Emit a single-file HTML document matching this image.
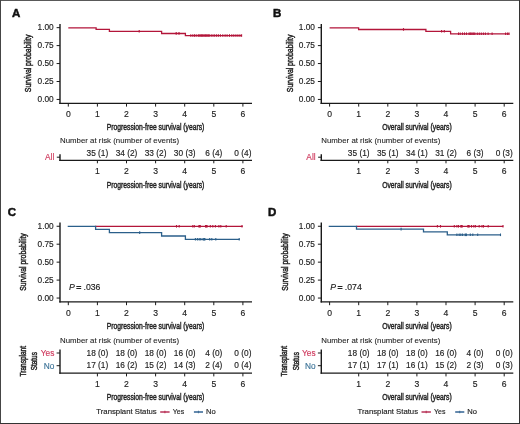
<!DOCTYPE html>
<html><head><meta charset="utf-8"><style>
html,body{margin:0;padding:0;background:#fff;}
body{width:520px;height:424px;overflow:hidden;}
svg{display:block;will-change:transform;}
text{font-family:"Liberation Sans",sans-serif;}
</style></head><body>
<svg width="520" height="424" viewBox="0 0 520 424">
<rect x="0" y="0" width="520" height="424" fill="#fff"/>
<g>
<text x="12" y="17" font-size="11.5" font-weight="bold" fill="#111" stroke="#111" stroke-width="0.5">A</text>
<line x1="60.00" y1="24.00" x2="60.00" y2="104.00" stroke="#1a1a1a" stroke-width="1.4"/>
<line x1="59.30" y1="103.30" x2="252.00" y2="103.30" stroke="#1a1a1a" stroke-width="1.3"/>
<line x1="56.60" y1="99.45" x2="60.00" y2="99.45" stroke="#1a1a1a" stroke-width="1.0"/>
<text x="53.70" y="102.00" font-size="8.3" text-anchor="end" fill="#222" stroke="#222" stroke-width="0.15">0.00</text>
<line x1="56.60" y1="81.50" x2="60.00" y2="81.50" stroke="#1a1a1a" stroke-width="1.0"/>
<text x="53.70" y="84.05" font-size="8.3" text-anchor="end" fill="#222" stroke="#222" stroke-width="0.15">0.25</text>
<line x1="56.60" y1="63.55" x2="60.00" y2="63.55" stroke="#1a1a1a" stroke-width="1.0"/>
<text x="53.70" y="66.10" font-size="8.3" text-anchor="end" fill="#222" stroke="#222" stroke-width="0.15">0.50</text>
<line x1="56.60" y1="45.60" x2="60.00" y2="45.60" stroke="#1a1a1a" stroke-width="1.0"/>
<text x="53.70" y="48.15" font-size="8.3" text-anchor="end" fill="#222" stroke="#222" stroke-width="0.15">0.75</text>
<line x1="56.60" y1="27.65" x2="60.00" y2="27.65" stroke="#1a1a1a" stroke-width="1.0"/>
<text x="53.70" y="30.20" font-size="8.3" text-anchor="end" fill="#222" stroke="#222" stroke-width="0.15">1.00</text>
<text transform="translate(30.80,63.40) rotate(-90)" x="0" y="0" font-size="9.2" text-anchor="middle" textLength="57.5" lengthAdjust="spacingAndGlyphs" fill="#222" stroke="#222" stroke-width="0.45">Survival probability</text>
<line x1="68.30" y1="103.30" x2="68.30" y2="106.60" stroke="#1a1a1a" stroke-width="1.0"/>
<text x="68.30" y="117.00" font-size="8.6" text-anchor="middle" fill="#222" stroke="#222" stroke-width="0.15">0</text>
<line x1="97.40" y1="103.30" x2="97.40" y2="106.60" stroke="#1a1a1a" stroke-width="1.0"/>
<text x="97.40" y="117.00" font-size="8.6" text-anchor="middle" fill="#222" stroke="#222" stroke-width="0.15">1</text>
<line x1="126.50" y1="103.30" x2="126.50" y2="106.60" stroke="#1a1a1a" stroke-width="1.0"/>
<text x="126.50" y="117.00" font-size="8.6" text-anchor="middle" fill="#222" stroke="#222" stroke-width="0.15">2</text>
<line x1="155.60" y1="103.30" x2="155.60" y2="106.60" stroke="#1a1a1a" stroke-width="1.0"/>
<text x="155.60" y="117.00" font-size="8.6" text-anchor="middle" fill="#222" stroke="#222" stroke-width="0.15">3</text>
<line x1="184.70" y1="103.30" x2="184.70" y2="106.60" stroke="#1a1a1a" stroke-width="1.0"/>
<text x="184.70" y="117.00" font-size="8.6" text-anchor="middle" fill="#222" stroke="#222" stroke-width="0.15">4</text>
<line x1="213.80" y1="103.30" x2="213.80" y2="106.60" stroke="#1a1a1a" stroke-width="1.0"/>
<text x="213.80" y="117.00" font-size="8.6" text-anchor="middle" fill="#222" stroke="#222" stroke-width="0.15">5</text>
<line x1="242.90" y1="103.30" x2="242.90" y2="106.60" stroke="#1a1a1a" stroke-width="1.0"/>
<text x="242.90" y="117.00" font-size="8.6" text-anchor="middle" fill="#222" stroke="#222" stroke-width="0.15">6</text>
<text x="155.60" y="130.30" font-size="9.6" text-anchor="middle" textLength="97.5" lengthAdjust="spacingAndGlyphs" fill="#222" stroke="#222" stroke-width="0.45">Progression-free survival (years)</text>
<path d="M68.30,27.80 H96.10 V29.45 H109.40 V31.30 H161.60 V33.50 H185.40 V35.60 H242.00" fill="none" stroke="#b3153a" stroke-width="1.3"/>
<line x1="139.20" y1="29.90" x2="139.20" y2="32.50" stroke="#b3153a" stroke-width="1.1"/>
<line x1="176.20" y1="32.10" x2="176.20" y2="34.70" stroke="#b3153a" stroke-width="1.1"/>
<line x1="179.00" y1="32.10" x2="179.00" y2="34.70" stroke="#b3153a" stroke-width="1.1"/>
<line x1="190.80" y1="34.20" x2="190.80" y2="36.80" stroke="#b3153a" stroke-width="1.1"/>
<line x1="192.80" y1="34.20" x2="192.80" y2="36.80" stroke="#b3153a" stroke-width="1.1"/>
<line x1="194.50" y1="34.20" x2="194.50" y2="36.80" stroke="#b3153a" stroke-width="1.1"/>
<line x1="196.20" y1="34.20" x2="196.20" y2="36.80" stroke="#b3153a" stroke-width="1.1"/>
<line x1="198.20" y1="34.20" x2="198.20" y2="36.80" stroke="#b3153a" stroke-width="1.1"/>
<line x1="199.10" y1="34.20" x2="199.10" y2="36.80" stroke="#b3153a" stroke-width="1.1"/>
<line x1="200.20" y1="34.20" x2="200.20" y2="36.80" stroke="#b3153a" stroke-width="1.1"/>
<line x1="201.30" y1="34.20" x2="201.30" y2="36.80" stroke="#b3153a" stroke-width="1.1"/>
<line x1="202.20" y1="34.20" x2="202.20" y2="36.80" stroke="#b3153a" stroke-width="1.1"/>
<line x1="203.10" y1="34.20" x2="203.10" y2="36.80" stroke="#b3153a" stroke-width="1.1"/>
<line x1="204.20" y1="34.20" x2="204.20" y2="36.80" stroke="#b3153a" stroke-width="1.1"/>
<line x1="205.30" y1="34.20" x2="205.30" y2="36.80" stroke="#b3153a" stroke-width="1.1"/>
<line x1="206.20" y1="34.20" x2="206.20" y2="36.80" stroke="#b3153a" stroke-width="1.1"/>
<line x1="207.20" y1="34.20" x2="207.20" y2="36.80" stroke="#b3153a" stroke-width="1.1"/>
<line x1="208.30" y1="34.20" x2="208.30" y2="36.80" stroke="#b3153a" stroke-width="1.1"/>
<line x1="209.30" y1="34.20" x2="209.30" y2="36.80" stroke="#b3153a" stroke-width="1.1"/>
<line x1="211.20" y1="34.20" x2="211.20" y2="36.80" stroke="#b3153a" stroke-width="1.1"/>
<line x1="213.00" y1="34.20" x2="213.00" y2="36.80" stroke="#b3153a" stroke-width="1.1"/>
<line x1="214.70" y1="34.20" x2="214.70" y2="36.80" stroke="#b3153a" stroke-width="1.1"/>
<line x1="216.60" y1="34.20" x2="216.60" y2="36.80" stroke="#b3153a" stroke-width="1.1"/>
<line x1="218.40" y1="34.20" x2="218.40" y2="36.80" stroke="#b3153a" stroke-width="1.1"/>
<line x1="220.40" y1="34.20" x2="220.40" y2="36.80" stroke="#b3153a" stroke-width="1.1"/>
<line x1="222.80" y1="34.20" x2="222.80" y2="36.80" stroke="#b3153a" stroke-width="1.1"/>
<line x1="225.10" y1="34.20" x2="225.10" y2="36.80" stroke="#b3153a" stroke-width="1.1"/>
<line x1="227.10" y1="34.20" x2="227.10" y2="36.80" stroke="#b3153a" stroke-width="1.1"/>
<line x1="229.50" y1="34.20" x2="229.50" y2="36.80" stroke="#b3153a" stroke-width="1.1"/>
<line x1="231.80" y1="34.20" x2="231.80" y2="36.80" stroke="#b3153a" stroke-width="1.1"/>
<line x1="233.80" y1="34.20" x2="233.80" y2="36.80" stroke="#b3153a" stroke-width="1.1"/>
<line x1="235.90" y1="34.20" x2="235.90" y2="36.80" stroke="#b3153a" stroke-width="1.1"/>
<line x1="237.90" y1="34.20" x2="237.90" y2="36.80" stroke="#b3153a" stroke-width="1.1"/>
<line x1="239.90" y1="34.20" x2="239.90" y2="36.80" stroke="#b3153a" stroke-width="1.1"/>
<line x1="241.60" y1="34.20" x2="241.60" y2="36.80" stroke="#b3153a" stroke-width="1.1"/>
<text x="60.00" y="142.50" font-size="7.85" text-anchor="start" fill="#222" stroke="#222" stroke-width="0.08">Number at risk (number of events)</text>
<line x1="60.00" y1="154.20" x2="60.00" y2="160.90" stroke="#1a1a1a" stroke-width="1.4"/>
<line x1="59.30" y1="160.30" x2="252.00" y2="160.30" stroke="#1a1a1a" stroke-width="1.3"/>
<line x1="56.80" y1="157.20" x2="60.00" y2="157.20" stroke="#1a1a1a" stroke-width="1.0"/>
<text x="54.30" y="160.00" font-size="8.3" text-anchor="end" fill="#cf3a5e" stroke="#cf3a5e" stroke-width="0.15">All</text>
<text x="97.40" y="155.60" font-size="8.3" text-anchor="middle" fill="#222" stroke="#222" stroke-width="0.15">35 (1)</text>
<text x="126.50" y="155.60" font-size="8.3" text-anchor="middle" fill="#222" stroke="#222" stroke-width="0.15">34 (2)</text>
<text x="155.60" y="155.60" font-size="8.3" text-anchor="middle" fill="#222" stroke="#222" stroke-width="0.15">33 (2)</text>
<text x="184.70" y="155.60" font-size="8.3" text-anchor="middle" fill="#222" stroke="#222" stroke-width="0.15">30 (3)</text>
<text x="213.80" y="155.60" font-size="8.3" text-anchor="middle" fill="#222" stroke="#222" stroke-width="0.15">6 (4)</text>
<text x="242.90" y="155.60" font-size="8.3" text-anchor="middle" fill="#222" stroke="#222" stroke-width="0.15">0 (4)</text>
<line x1="97.40" y1="160.30" x2="97.40" y2="163.30" stroke="#1a1a1a" stroke-width="1.0"/>
<text x="97.40" y="173.80" font-size="8.6" text-anchor="middle" fill="#222" stroke="#222" stroke-width="0.15">1</text>
<line x1="126.50" y1="160.30" x2="126.50" y2="163.30" stroke="#1a1a1a" stroke-width="1.0"/>
<text x="126.50" y="173.80" font-size="8.6" text-anchor="middle" fill="#222" stroke="#222" stroke-width="0.15">2</text>
<line x1="155.60" y1="160.30" x2="155.60" y2="163.30" stroke="#1a1a1a" stroke-width="1.0"/>
<text x="155.60" y="173.80" font-size="8.6" text-anchor="middle" fill="#222" stroke="#222" stroke-width="0.15">3</text>
<line x1="184.70" y1="160.30" x2="184.70" y2="163.30" stroke="#1a1a1a" stroke-width="1.0"/>
<text x="184.70" y="173.80" font-size="8.6" text-anchor="middle" fill="#222" stroke="#222" stroke-width="0.15">4</text>
<line x1="213.80" y1="160.30" x2="213.80" y2="163.30" stroke="#1a1a1a" stroke-width="1.0"/>
<text x="213.80" y="173.80" font-size="8.6" text-anchor="middle" fill="#222" stroke="#222" stroke-width="0.15">5</text>
<line x1="242.90" y1="160.30" x2="242.90" y2="163.30" stroke="#1a1a1a" stroke-width="1.0"/>
<text x="242.90" y="173.80" font-size="8.6" text-anchor="middle" fill="#222" stroke="#222" stroke-width="0.15">6</text>
<text x="155.60" y="187.60" font-size="9.6" text-anchor="middle" textLength="97.5" lengthAdjust="spacingAndGlyphs" fill="#222" stroke="#222" stroke-width="0.45">Progression-free survival (years)</text>
</g>
<g transform="translate(261.3,0)">
<text x="11.7" y="17" font-size="11.5" font-weight="bold" fill="#111" stroke="#111" stroke-width="0.5">B</text>
<line x1="60.00" y1="24.00" x2="60.00" y2="104.00" stroke="#1a1a1a" stroke-width="1.4"/>
<line x1="59.30" y1="103.30" x2="252.00" y2="103.30" stroke="#1a1a1a" stroke-width="1.3"/>
<line x1="56.60" y1="99.45" x2="60.00" y2="99.45" stroke="#1a1a1a" stroke-width="1.0"/>
<text x="53.70" y="102.00" font-size="8.3" text-anchor="end" fill="#222" stroke="#222" stroke-width="0.15">0.00</text>
<line x1="56.60" y1="81.50" x2="60.00" y2="81.50" stroke="#1a1a1a" stroke-width="1.0"/>
<text x="53.70" y="84.05" font-size="8.3" text-anchor="end" fill="#222" stroke="#222" stroke-width="0.15">0.25</text>
<line x1="56.60" y1="63.55" x2="60.00" y2="63.55" stroke="#1a1a1a" stroke-width="1.0"/>
<text x="53.70" y="66.10" font-size="8.3" text-anchor="end" fill="#222" stroke="#222" stroke-width="0.15">0.50</text>
<line x1="56.60" y1="45.60" x2="60.00" y2="45.60" stroke="#1a1a1a" stroke-width="1.0"/>
<text x="53.70" y="48.15" font-size="8.3" text-anchor="end" fill="#222" stroke="#222" stroke-width="0.15">0.75</text>
<line x1="56.60" y1="27.65" x2="60.00" y2="27.65" stroke="#1a1a1a" stroke-width="1.0"/>
<text x="53.70" y="30.20" font-size="8.3" text-anchor="end" fill="#222" stroke="#222" stroke-width="0.15">1.00</text>
<text transform="translate(31.20,63.40) rotate(-90)" x="0" y="0" font-size="9.2" text-anchor="middle" textLength="57.5" lengthAdjust="spacingAndGlyphs" fill="#222" stroke="#222" stroke-width="0.45">Survival probability</text>
<line x1="68.30" y1="103.30" x2="68.30" y2="106.60" stroke="#1a1a1a" stroke-width="1.0"/>
<text x="68.30" y="117.00" font-size="8.6" text-anchor="middle" fill="#222" stroke="#222" stroke-width="0.15">0</text>
<line x1="97.40" y1="103.30" x2="97.40" y2="106.60" stroke="#1a1a1a" stroke-width="1.0"/>
<text x="97.40" y="117.00" font-size="8.6" text-anchor="middle" fill="#222" stroke="#222" stroke-width="0.15">1</text>
<line x1="126.50" y1="103.30" x2="126.50" y2="106.60" stroke="#1a1a1a" stroke-width="1.0"/>
<text x="126.50" y="117.00" font-size="8.6" text-anchor="middle" fill="#222" stroke="#222" stroke-width="0.15">2</text>
<line x1="155.60" y1="103.30" x2="155.60" y2="106.60" stroke="#1a1a1a" stroke-width="1.0"/>
<text x="155.60" y="117.00" font-size="8.6" text-anchor="middle" fill="#222" stroke="#222" stroke-width="0.15">3</text>
<line x1="184.70" y1="103.30" x2="184.70" y2="106.60" stroke="#1a1a1a" stroke-width="1.0"/>
<text x="184.70" y="117.00" font-size="8.6" text-anchor="middle" fill="#222" stroke="#222" stroke-width="0.15">4</text>
<line x1="213.80" y1="103.30" x2="213.80" y2="106.60" stroke="#1a1a1a" stroke-width="1.0"/>
<text x="213.80" y="117.00" font-size="8.6" text-anchor="middle" fill="#222" stroke="#222" stroke-width="0.15">5</text>
<line x1="242.90" y1="103.30" x2="242.90" y2="106.60" stroke="#1a1a1a" stroke-width="1.0"/>
<text x="242.90" y="117.00" font-size="8.6" text-anchor="middle" fill="#222" stroke="#222" stroke-width="0.15">6</text>
<text x="155.60" y="130.30" font-size="9.6" text-anchor="middle" textLength="69.5" lengthAdjust="spacingAndGlyphs" fill="#222" stroke="#222" stroke-width="0.45">Overall survival (years)</text>
<path d="M68.30,27.80 H97.30 V29.50 H164.60 V31.40 H189.30 V33.80 H248.00" fill="none" stroke="#b3153a" stroke-width="1.3"/>
<line x1="142.20" y1="28.10" x2="142.20" y2="30.70" stroke="#b3153a" stroke-width="1.1"/>
<line x1="180.30" y1="30.00" x2="180.30" y2="32.60" stroke="#b3153a" stroke-width="1.1"/>
<line x1="183.00" y1="30.00" x2="183.00" y2="32.60" stroke="#b3153a" stroke-width="1.1"/>
<line x1="197.20" y1="32.40" x2="197.20" y2="35.00" stroke="#b3153a" stroke-width="1.1"/>
<line x1="198.90" y1="32.40" x2="198.90" y2="35.00" stroke="#b3153a" stroke-width="1.1"/>
<line x1="201.20" y1="32.40" x2="201.20" y2="35.00" stroke="#b3153a" stroke-width="1.1"/>
<line x1="203.20" y1="32.40" x2="203.20" y2="35.00" stroke="#b3153a" stroke-width="1.1"/>
<line x1="205.20" y1="32.40" x2="205.20" y2="35.00" stroke="#b3153a" stroke-width="1.1"/>
<line x1="207.70" y1="32.40" x2="207.70" y2="35.00" stroke="#b3153a" stroke-width="1.1"/>
<line x1="208.70" y1="32.40" x2="208.70" y2="35.00" stroke="#b3153a" stroke-width="1.1"/>
<line x1="209.50" y1="32.40" x2="209.50" y2="35.00" stroke="#b3153a" stroke-width="1.1"/>
<line x1="210.60" y1="32.40" x2="210.60" y2="35.00" stroke="#b3153a" stroke-width="1.1"/>
<line x1="211.70" y1="32.40" x2="211.70" y2="35.00" stroke="#b3153a" stroke-width="1.1"/>
<line x1="212.60" y1="32.40" x2="212.60" y2="35.00" stroke="#b3153a" stroke-width="1.1"/>
<line x1="213.60" y1="32.40" x2="213.60" y2="35.00" stroke="#b3153a" stroke-width="1.1"/>
<line x1="216.00" y1="32.40" x2="216.00" y2="35.00" stroke="#b3153a" stroke-width="1.1"/>
<line x1="218.00" y1="32.40" x2="218.00" y2="35.00" stroke="#b3153a" stroke-width="1.1"/>
<line x1="220.00" y1="32.40" x2="220.00" y2="35.00" stroke="#b3153a" stroke-width="1.1"/>
<line x1="222.10" y1="32.40" x2="222.10" y2="35.00" stroke="#b3153a" stroke-width="1.1"/>
<line x1="224.10" y1="32.40" x2="224.10" y2="35.00" stroke="#b3153a" stroke-width="1.1"/>
<line x1="226.80" y1="32.40" x2="226.80" y2="35.00" stroke="#b3153a" stroke-width="1.1"/>
<line x1="230.80" y1="32.40" x2="230.80" y2="35.00" stroke="#b3153a" stroke-width="1.1"/>
<line x1="244.30" y1="32.40" x2="244.30" y2="35.00" stroke="#b3153a" stroke-width="1.1"/>
<line x1="246.30" y1="32.40" x2="246.30" y2="35.00" stroke="#b3153a" stroke-width="1.1"/>
<line x1="247.70" y1="32.40" x2="247.70" y2="35.00" stroke="#b3153a" stroke-width="1.1"/>
<text x="60.00" y="142.50" font-size="7.85" text-anchor="start" fill="#222" stroke="#222" stroke-width="0.08">Number at risk (number of events)</text>
<line x1="60.00" y1="154.20" x2="60.00" y2="160.90" stroke="#1a1a1a" stroke-width="1.4"/>
<line x1="59.30" y1="160.30" x2="252.00" y2="160.30" stroke="#1a1a1a" stroke-width="1.3"/>
<line x1="56.80" y1="157.20" x2="60.00" y2="157.20" stroke="#1a1a1a" stroke-width="1.0"/>
<text x="54.30" y="160.00" font-size="8.3" text-anchor="end" fill="#cf3a5e" stroke="#cf3a5e" stroke-width="0.15">All</text>
<text x="97.40" y="155.60" font-size="8.3" text-anchor="middle" fill="#222" stroke="#222" stroke-width="0.15">35 (1)</text>
<text x="126.50" y="155.60" font-size="8.3" text-anchor="middle" fill="#222" stroke="#222" stroke-width="0.15">35 (1)</text>
<text x="155.60" y="155.60" font-size="8.3" text-anchor="middle" fill="#222" stroke="#222" stroke-width="0.15">34 (1)</text>
<text x="184.70" y="155.60" font-size="8.3" text-anchor="middle" fill="#222" stroke="#222" stroke-width="0.15">31 (2)</text>
<text x="213.80" y="155.60" font-size="8.3" text-anchor="middle" fill="#222" stroke="#222" stroke-width="0.15">6 (3)</text>
<text x="242.90" y="155.60" font-size="8.3" text-anchor="middle" fill="#222" stroke="#222" stroke-width="0.15">0 (3)</text>
<line x1="97.40" y1="160.30" x2="97.40" y2="163.30" stroke="#1a1a1a" stroke-width="1.0"/>
<text x="97.40" y="173.80" font-size="8.6" text-anchor="middle" fill="#222" stroke="#222" stroke-width="0.15">1</text>
<line x1="126.50" y1="160.30" x2="126.50" y2="163.30" stroke="#1a1a1a" stroke-width="1.0"/>
<text x="126.50" y="173.80" font-size="8.6" text-anchor="middle" fill="#222" stroke="#222" stroke-width="0.15">2</text>
<line x1="155.60" y1="160.30" x2="155.60" y2="163.30" stroke="#1a1a1a" stroke-width="1.0"/>
<text x="155.60" y="173.80" font-size="8.6" text-anchor="middle" fill="#222" stroke="#222" stroke-width="0.15">3</text>
<line x1="184.70" y1="160.30" x2="184.70" y2="163.30" stroke="#1a1a1a" stroke-width="1.0"/>
<text x="184.70" y="173.80" font-size="8.6" text-anchor="middle" fill="#222" stroke="#222" stroke-width="0.15">4</text>
<line x1="213.80" y1="160.30" x2="213.80" y2="163.30" stroke="#1a1a1a" stroke-width="1.0"/>
<text x="213.80" y="173.80" font-size="8.6" text-anchor="middle" fill="#222" stroke="#222" stroke-width="0.15">5</text>
<line x1="242.90" y1="160.30" x2="242.90" y2="163.30" stroke="#1a1a1a" stroke-width="1.0"/>
<text x="242.90" y="173.80" font-size="8.6" text-anchor="middle" fill="#222" stroke="#222" stroke-width="0.15">6</text>
<text x="155.60" y="187.60" font-size="9.6" text-anchor="middle" textLength="69.5" lengthAdjust="spacingAndGlyphs" fill="#222" stroke="#222" stroke-width="0.45">Overall survival (years)</text>
</g>
<g transform="translate(0,198.6)">
<text x="7.8" y="17" font-size="11.5" font-weight="bold" fill="#111" stroke="#111" stroke-width="0.5">C</text>
<line x1="60.00" y1="24.00" x2="60.00" y2="104.00" stroke="#1a1a1a" stroke-width="1.4"/>
<line x1="59.30" y1="103.30" x2="252.00" y2="103.30" stroke="#1a1a1a" stroke-width="1.3"/>
<line x1="56.60" y1="99.45" x2="60.00" y2="99.45" stroke="#1a1a1a" stroke-width="1.0"/>
<text x="53.70" y="102.00" font-size="8.3" text-anchor="end" fill="#222" stroke="#222" stroke-width="0.15">0.00</text>
<line x1="56.60" y1="81.50" x2="60.00" y2="81.50" stroke="#1a1a1a" stroke-width="1.0"/>
<text x="53.70" y="84.05" font-size="8.3" text-anchor="end" fill="#222" stroke="#222" stroke-width="0.15">0.25</text>
<line x1="56.60" y1="63.55" x2="60.00" y2="63.55" stroke="#1a1a1a" stroke-width="1.0"/>
<text x="53.70" y="66.10" font-size="8.3" text-anchor="end" fill="#222" stroke="#222" stroke-width="0.15">0.50</text>
<line x1="56.60" y1="45.60" x2="60.00" y2="45.60" stroke="#1a1a1a" stroke-width="1.0"/>
<text x="53.70" y="48.15" font-size="8.3" text-anchor="end" fill="#222" stroke="#222" stroke-width="0.15">0.75</text>
<line x1="56.60" y1="27.65" x2="60.00" y2="27.65" stroke="#1a1a1a" stroke-width="1.0"/>
<text x="53.70" y="30.20" font-size="8.3" text-anchor="end" fill="#222" stroke="#222" stroke-width="0.15">1.00</text>
<text transform="translate(26.10,63.40) rotate(-90)" x="0" y="0" font-size="9.2" text-anchor="middle" textLength="57.5" lengthAdjust="spacingAndGlyphs" fill="#222" stroke="#222" stroke-width="0.45">Survival probability</text>
<line x1="68.30" y1="103.30" x2="68.30" y2="106.60" stroke="#1a1a1a" stroke-width="1.0"/>
<text x="68.30" y="117.00" font-size="8.6" text-anchor="middle" fill="#222" stroke="#222" stroke-width="0.15">0</text>
<line x1="97.40" y1="103.30" x2="97.40" y2="106.60" stroke="#1a1a1a" stroke-width="1.0"/>
<text x="97.40" y="117.00" font-size="8.6" text-anchor="middle" fill="#222" stroke="#222" stroke-width="0.15">1</text>
<line x1="126.50" y1="103.30" x2="126.50" y2="106.60" stroke="#1a1a1a" stroke-width="1.0"/>
<text x="126.50" y="117.00" font-size="8.6" text-anchor="middle" fill="#222" stroke="#222" stroke-width="0.15">2</text>
<line x1="155.60" y1="103.30" x2="155.60" y2="106.60" stroke="#1a1a1a" stroke-width="1.0"/>
<text x="155.60" y="117.00" font-size="8.6" text-anchor="middle" fill="#222" stroke="#222" stroke-width="0.15">3</text>
<line x1="184.70" y1="103.30" x2="184.70" y2="106.60" stroke="#1a1a1a" stroke-width="1.0"/>
<text x="184.70" y="117.00" font-size="8.6" text-anchor="middle" fill="#222" stroke="#222" stroke-width="0.15">4</text>
<line x1="213.80" y1="103.30" x2="213.80" y2="106.60" stroke="#1a1a1a" stroke-width="1.0"/>
<text x="213.80" y="117.00" font-size="8.6" text-anchor="middle" fill="#222" stroke="#222" stroke-width="0.15">5</text>
<line x1="242.90" y1="103.30" x2="242.90" y2="106.60" stroke="#1a1a1a" stroke-width="1.0"/>
<text x="242.90" y="117.00" font-size="8.6" text-anchor="middle" fill="#222" stroke="#222" stroke-width="0.15">6</text>
<text x="155.60" y="130.30" font-size="9.6" text-anchor="middle" textLength="97.5" lengthAdjust="spacingAndGlyphs" fill="#222" stroke="#222" stroke-width="0.45">Progression-free survival (years)</text>
<path d="M95.00,27.80 H242.70" fill="none" stroke="#b3153a" stroke-width="1.3"/>
<line x1="176.50" y1="26.40" x2="176.50" y2="29.00" stroke="#b3153a" stroke-width="1.1"/>
<line x1="179.20" y1="26.40" x2="179.20" y2="29.00" stroke="#b3153a" stroke-width="1.1"/>
<line x1="192.80" y1="26.40" x2="192.80" y2="29.00" stroke="#b3153a" stroke-width="1.1"/>
<line x1="194.30" y1="26.40" x2="194.30" y2="29.00" stroke="#b3153a" stroke-width="1.1"/>
<line x1="199.60" y1="26.40" x2="199.60" y2="29.00" stroke="#b3153a" stroke-width="2.4"/>
<line x1="206.30" y1="26.40" x2="206.30" y2="29.00" stroke="#b3153a" stroke-width="2.6"/>
<line x1="210.30" y1="26.40" x2="210.30" y2="29.00" stroke="#b3153a" stroke-width="1.1"/>
<line x1="212.80" y1="26.40" x2="212.80" y2="29.00" stroke="#b3153a" stroke-width="1.1"/>
<line x1="215.40" y1="26.40" x2="215.40" y2="29.00" stroke="#b3153a" stroke-width="1.1"/>
<line x1="218.90" y1="26.40" x2="218.90" y2="29.00" stroke="#b3153a" stroke-width="1.1"/>
<line x1="220.80" y1="26.40" x2="220.80" y2="29.00" stroke="#b3153a" stroke-width="1.1"/>
<line x1="226.20" y1="26.40" x2="226.20" y2="29.00" stroke="#b3153a" stroke-width="1.1"/>
<line x1="242.00" y1="26.40" x2="242.00" y2="29.00" stroke="#b3153a" stroke-width="1.1"/>
<path d="M67.70,27.70 H95.60 V30.70 H109.40 V34.10 H161.60 V37.40 H185.40 V40.80 H239.70" fill="none" stroke="#2b5f8a" stroke-width="1.3"/>
<line x1="139.70" y1="32.70" x2="139.70" y2="35.30" stroke="#2b5f8a" stroke-width="1.1"/>
<line x1="195.40" y1="39.40" x2="195.40" y2="42.00" stroke="#2b5f8a" stroke-width="1.1"/>
<line x1="197.40" y1="39.40" x2="197.40" y2="42.00" stroke="#2b5f8a" stroke-width="1.1"/>
<line x1="199.20" y1="39.40" x2="199.20" y2="42.00" stroke="#2b5f8a" stroke-width="1.1"/>
<line x1="200.80" y1="39.40" x2="200.80" y2="42.00" stroke="#2b5f8a" stroke-width="1.1"/>
<line x1="203.10" y1="39.40" x2="203.10" y2="42.00" stroke="#2b5f8a" stroke-width="1.1"/>
<line x1="204.40" y1="39.40" x2="204.40" y2="42.00" stroke="#2b5f8a" stroke-width="2.0"/>
<line x1="209.70" y1="39.40" x2="209.70" y2="42.00" stroke="#2b5f8a" stroke-width="1.1"/>
<line x1="211.80" y1="39.40" x2="211.80" y2="42.00" stroke="#2b5f8a" stroke-width="1.1"/>
<line x1="215.80" y1="39.40" x2="215.80" y2="42.00" stroke="#2b5f8a" stroke-width="1.1"/>
<line x1="239.20" y1="39.40" x2="239.20" y2="42.00" stroke="#2b5f8a" stroke-width="1.1"/>
<text x="68.9" y="91.50" font-size="8.7" font-style="italic" fill="#222" stroke="#222" stroke-width="0.15">P</text>
<text x="76.2" y="91.50" font-size="8.7" fill="#222" stroke="#222" stroke-width="0.55">=</text>
<text x="83.5" y="91.50" font-size="8.7" fill="#222" stroke="#222" stroke-width="0.15">.036</text>
<text x="60.00" y="144.90" font-size="7.85" text-anchor="start" fill="#222" stroke="#222" stroke-width="0.08">Number at risk (number of events)</text>
<line x1="60.00" y1="150.90" x2="60.00" y2="175.20" stroke="#1a1a1a" stroke-width="1.4"/>
<line x1="59.30" y1="174.60" x2="252.00" y2="174.60" stroke="#1a1a1a" stroke-width="1.3"/>
<line x1="56.60" y1="154.40" x2="60.00" y2="154.40" stroke="#1a1a1a" stroke-width="1.0"/>
<text x="54.30" y="157.25" font-size="8.3" text-anchor="end" fill="#cf3a5e" stroke="#cf3a5e" stroke-width="0.15">Yes</text>
<line x1="56.60" y1="167.10" x2="60.00" y2="167.10" stroke="#1a1a1a" stroke-width="1.0"/>
<text x="54.30" y="169.95" font-size="8.3" text-anchor="end" fill="#3f7599" stroke="#3f7599" stroke-width="0.15">No</text>
<text x="97.40" y="157.15" font-size="8.3" text-anchor="middle" fill="#222" stroke="#222" stroke-width="0.15">18 (0)</text>
<text x="126.50" y="157.15" font-size="8.3" text-anchor="middle" fill="#222" stroke="#222" stroke-width="0.15">18 (0)</text>
<text x="155.60" y="157.15" font-size="8.3" text-anchor="middle" fill="#222" stroke="#222" stroke-width="0.15">18 (0)</text>
<text x="184.70" y="157.15" font-size="8.3" text-anchor="middle" fill="#222" stroke="#222" stroke-width="0.15">16 (0)</text>
<text x="213.80" y="157.15" font-size="8.3" text-anchor="middle" fill="#222" stroke="#222" stroke-width="0.15">4 (0)</text>
<text x="242.90" y="157.15" font-size="8.3" text-anchor="middle" fill="#222" stroke="#222" stroke-width="0.15">0 (0)</text>
<text x="97.40" y="169.85" font-size="8.3" text-anchor="middle" fill="#222" stroke="#222" stroke-width="0.15">17 (1)</text>
<text x="126.50" y="169.85" font-size="8.3" text-anchor="middle" fill="#222" stroke="#222" stroke-width="0.15">16 (2)</text>
<text x="155.60" y="169.85" font-size="8.3" text-anchor="middle" fill="#222" stroke="#222" stroke-width="0.15">15 (2)</text>
<text x="184.70" y="169.85" font-size="8.3" text-anchor="middle" fill="#222" stroke="#222" stroke-width="0.15">14 (3)</text>
<text x="213.80" y="169.85" font-size="8.3" text-anchor="middle" fill="#222" stroke="#222" stroke-width="0.15">2 (4)</text>
<text x="242.90" y="169.85" font-size="8.3" text-anchor="middle" fill="#222" stroke="#222" stroke-width="0.15">0 (4)</text>
<line x1="97.40" y1="174.60" x2="97.40" y2="177.80" stroke="#1a1a1a" stroke-width="1.0"/>
<text x="97.40" y="188.20" font-size="8.6" text-anchor="middle" fill="#222" stroke="#222" stroke-width="0.15">1</text>
<line x1="126.50" y1="174.60" x2="126.50" y2="177.80" stroke="#1a1a1a" stroke-width="1.0"/>
<text x="126.50" y="188.20" font-size="8.6" text-anchor="middle" fill="#222" stroke="#222" stroke-width="0.15">2</text>
<line x1="155.60" y1="174.60" x2="155.60" y2="177.80" stroke="#1a1a1a" stroke-width="1.0"/>
<text x="155.60" y="188.20" font-size="8.6" text-anchor="middle" fill="#222" stroke="#222" stroke-width="0.15">3</text>
<line x1="184.70" y1="174.60" x2="184.70" y2="177.80" stroke="#1a1a1a" stroke-width="1.0"/>
<text x="184.70" y="188.20" font-size="8.6" text-anchor="middle" fill="#222" stroke="#222" stroke-width="0.15">4</text>
<line x1="213.80" y1="174.60" x2="213.80" y2="177.80" stroke="#1a1a1a" stroke-width="1.0"/>
<text x="213.80" y="188.20" font-size="8.6" text-anchor="middle" fill="#222" stroke="#222" stroke-width="0.15">5</text>
<line x1="242.90" y1="174.60" x2="242.90" y2="177.80" stroke="#1a1a1a" stroke-width="1.0"/>
<text x="242.90" y="188.20" font-size="8.6" text-anchor="middle" fill="#222" stroke="#222" stroke-width="0.15">6</text>
<text x="155.60" y="201.40" font-size="9.6" text-anchor="middle" textLength="97.5" lengthAdjust="spacingAndGlyphs" fill="#222" stroke="#222" stroke-width="0.45">Progression-free survival (years)</text>
<text transform="translate(25.60,162.60) rotate(-90)" x="0" y="0" font-size="8.3" text-anchor="middle" textLength="30.5" lengthAdjust="spacingAndGlyphs" fill="#222" stroke="#222" stroke-width="0.45">Transplant</text>
<text transform="translate(37.30,162.60) rotate(-90)" x="0" y="0" font-size="8.3" text-anchor="middle" textLength="18.2" lengthAdjust="spacingAndGlyphs" fill="#222" stroke="#222" stroke-width="0.45">Status</text>
<text x="96.30" y="215.70" font-size="7.75" text-anchor="start" fill="#222" stroke="#222" stroke-width="0.15">Transplant Status</text>
<line x1="160.20" y1="213.40" x2="169.60" y2="213.40" stroke="#c04a6c" stroke-width="1.7"/>
<line x1="164.90" y1="212.10" x2="164.90" y2="214.70" stroke="#b3153a" stroke-width="0.7"/>
<text x="172.80" y="215.70" font-size="7.6" text-anchor="start" fill="#222" stroke="#222" stroke-width="0.15" textLength="11.4" lengthAdjust="spacingAndGlyphs">Yes</text>
<line x1="193.90" y1="213.40" x2="203.00" y2="213.40" stroke="#4a75a0" stroke-width="1.7"/>
<line x1="198.45" y1="212.10" x2="198.45" y2="214.70" stroke="#2b5f8a" stroke-width="0.7"/>
<text x="206.00" y="215.70" font-size="7.6" text-anchor="start" fill="#222" stroke="#222" stroke-width="0.15">No</text>
</g>
<g transform="translate(261.3,198.6)">
<text x="6.8" y="17" font-size="11.5" font-weight="bold" fill="#111" stroke="#111" stroke-width="0.5">D</text>
<line x1="60.00" y1="24.00" x2="60.00" y2="104.00" stroke="#1a1a1a" stroke-width="1.4"/>
<line x1="59.30" y1="103.30" x2="252.00" y2="103.30" stroke="#1a1a1a" stroke-width="1.3"/>
<line x1="56.60" y1="99.45" x2="60.00" y2="99.45" stroke="#1a1a1a" stroke-width="1.0"/>
<text x="53.70" y="102.00" font-size="8.3" text-anchor="end" fill="#222" stroke="#222" stroke-width="0.15">0.00</text>
<line x1="56.60" y1="81.50" x2="60.00" y2="81.50" stroke="#1a1a1a" stroke-width="1.0"/>
<text x="53.70" y="84.05" font-size="8.3" text-anchor="end" fill="#222" stroke="#222" stroke-width="0.15">0.25</text>
<line x1="56.60" y1="63.55" x2="60.00" y2="63.55" stroke="#1a1a1a" stroke-width="1.0"/>
<text x="53.70" y="66.10" font-size="8.3" text-anchor="end" fill="#222" stroke="#222" stroke-width="0.15">0.50</text>
<line x1="56.60" y1="45.60" x2="60.00" y2="45.60" stroke="#1a1a1a" stroke-width="1.0"/>
<text x="53.70" y="48.15" font-size="8.3" text-anchor="end" fill="#222" stroke="#222" stroke-width="0.15">0.75</text>
<line x1="56.60" y1="27.65" x2="60.00" y2="27.65" stroke="#1a1a1a" stroke-width="1.0"/>
<text x="53.70" y="30.20" font-size="8.3" text-anchor="end" fill="#222" stroke="#222" stroke-width="0.15">1.00</text>
<text transform="translate(26.20,63.40) rotate(-90)" x="0" y="0" font-size="9.2" text-anchor="middle" textLength="57.5" lengthAdjust="spacingAndGlyphs" fill="#222" stroke="#222" stroke-width="0.45">Survival probability</text>
<line x1="68.30" y1="103.30" x2="68.30" y2="106.60" stroke="#1a1a1a" stroke-width="1.0"/>
<text x="68.30" y="117.00" font-size="8.6" text-anchor="middle" fill="#222" stroke="#222" stroke-width="0.15">0</text>
<line x1="97.40" y1="103.30" x2="97.40" y2="106.60" stroke="#1a1a1a" stroke-width="1.0"/>
<text x="97.40" y="117.00" font-size="8.6" text-anchor="middle" fill="#222" stroke="#222" stroke-width="0.15">1</text>
<line x1="126.50" y1="103.30" x2="126.50" y2="106.60" stroke="#1a1a1a" stroke-width="1.0"/>
<text x="126.50" y="117.00" font-size="8.6" text-anchor="middle" fill="#222" stroke="#222" stroke-width="0.15">2</text>
<line x1="155.60" y1="103.30" x2="155.60" y2="106.60" stroke="#1a1a1a" stroke-width="1.0"/>
<text x="155.60" y="117.00" font-size="8.6" text-anchor="middle" fill="#222" stroke="#222" stroke-width="0.15">3</text>
<line x1="184.70" y1="103.30" x2="184.70" y2="106.60" stroke="#1a1a1a" stroke-width="1.0"/>
<text x="184.70" y="117.00" font-size="8.6" text-anchor="middle" fill="#222" stroke="#222" stroke-width="0.15">4</text>
<line x1="213.80" y1="103.30" x2="213.80" y2="106.60" stroke="#1a1a1a" stroke-width="1.0"/>
<text x="213.80" y="117.00" font-size="8.6" text-anchor="middle" fill="#222" stroke="#222" stroke-width="0.15">5</text>
<line x1="242.90" y1="103.30" x2="242.90" y2="106.60" stroke="#1a1a1a" stroke-width="1.0"/>
<text x="242.90" y="117.00" font-size="8.6" text-anchor="middle" fill="#222" stroke="#222" stroke-width="0.15">6</text>
<text x="155.60" y="130.30" font-size="9.6" text-anchor="middle" textLength="69.5" lengthAdjust="spacingAndGlyphs" fill="#222" stroke="#222" stroke-width="0.45">Overall survival (years)</text>
<path d="M94.70,27.80 H241.90" fill="none" stroke="#b3153a" stroke-width="1.3"/>
<line x1="176.10" y1="26.40" x2="176.10" y2="29.00" stroke="#b3153a" stroke-width="1.1"/>
<line x1="179.20" y1="26.40" x2="179.20" y2="29.00" stroke="#b3153a" stroke-width="1.1"/>
<line x1="193.00" y1="26.40" x2="193.00" y2="29.00" stroke="#b3153a" stroke-width="1.1"/>
<line x1="195.60" y1="26.40" x2="195.60" y2="29.00" stroke="#b3153a" stroke-width="1.1"/>
<line x1="197.20" y1="26.40" x2="197.20" y2="29.00" stroke="#b3153a" stroke-width="1.1"/>
<line x1="200.20" y1="26.40" x2="200.20" y2="29.00" stroke="#b3153a" stroke-width="2.4"/>
<line x1="207.20" y1="26.40" x2="207.20" y2="29.00" stroke="#b3153a" stroke-width="2.4"/>
<line x1="210.20" y1="26.40" x2="210.20" y2="29.00" stroke="#b3153a" stroke-width="1.1"/>
<line x1="212.50" y1="26.40" x2="212.50" y2="29.00" stroke="#b3153a" stroke-width="1.1"/>
<line x1="214.10" y1="26.40" x2="214.10" y2="29.00" stroke="#b3153a" stroke-width="1.1"/>
<line x1="217.90" y1="26.40" x2="217.90" y2="29.00" stroke="#b3153a" stroke-width="1.1"/>
<line x1="220.70" y1="26.40" x2="220.70" y2="29.00" stroke="#b3153a" stroke-width="1.1"/>
<line x1="222.20" y1="26.40" x2="222.20" y2="29.00" stroke="#b3153a" stroke-width="1.1"/>
<line x1="226.90" y1="26.40" x2="226.90" y2="29.00" stroke="#b3153a" stroke-width="1.1"/>
<line x1="241.70" y1="26.40" x2="241.70" y2="29.00" stroke="#b3153a" stroke-width="1.1"/>
<path d="M67.40,27.80 H95.20 V30.60 H162.20 V33.30 H186.00 V36.30 H239.60" fill="none" stroke="#2b5f8a" stroke-width="1.3"/>
<line x1="139.80" y1="29.20" x2="139.80" y2="31.80" stroke="#2b5f8a" stroke-width="1.1"/>
<line x1="195.60" y1="34.90" x2="195.60" y2="37.50" stroke="#2b5f8a" stroke-width="1.1"/>
<line x1="197.90" y1="34.90" x2="197.90" y2="37.50" stroke="#2b5f8a" stroke-width="1.1"/>
<line x1="199.50" y1="34.90" x2="199.50" y2="37.50" stroke="#2b5f8a" stroke-width="1.1"/>
<line x1="201.30" y1="34.90" x2="201.30" y2="37.50" stroke="#2b5f8a" stroke-width="1.1"/>
<line x1="204.50" y1="34.90" x2="204.50" y2="37.50" stroke="#2b5f8a" stroke-width="2.4"/>
<line x1="209.00" y1="34.90" x2="209.00" y2="37.50" stroke="#2b5f8a" stroke-width="1.1"/>
<line x1="211.50" y1="34.90" x2="211.50" y2="37.50" stroke="#2b5f8a" stroke-width="1.1"/>
<line x1="216.40" y1="34.90" x2="216.40" y2="37.50" stroke="#2b5f8a" stroke-width="1.1"/>
<line x1="239.20" y1="34.90" x2="239.20" y2="37.50" stroke="#2b5f8a" stroke-width="1.1"/>
<text x="68.9" y="91.50" font-size="8.7" font-style="italic" fill="#222" stroke="#222" stroke-width="0.15">P</text>
<text x="76.2" y="91.50" font-size="8.7" fill="#222" stroke="#222" stroke-width="0.55">=</text>
<text x="83.5" y="91.50" font-size="8.7" fill="#222" stroke="#222" stroke-width="0.15">.074</text>
<text x="60.00" y="144.90" font-size="7.85" text-anchor="start" fill="#222" stroke="#222" stroke-width="0.08">Number at risk (number of events)</text>
<line x1="60.00" y1="150.90" x2="60.00" y2="175.20" stroke="#1a1a1a" stroke-width="1.4"/>
<line x1="59.30" y1="174.60" x2="252.00" y2="174.60" stroke="#1a1a1a" stroke-width="1.3"/>
<line x1="56.60" y1="154.40" x2="60.00" y2="154.40" stroke="#1a1a1a" stroke-width="1.0"/>
<text x="54.30" y="157.25" font-size="8.3" text-anchor="end" fill="#cf3a5e" stroke="#cf3a5e" stroke-width="0.15">Yes</text>
<line x1="56.60" y1="167.10" x2="60.00" y2="167.10" stroke="#1a1a1a" stroke-width="1.0"/>
<text x="54.30" y="169.95" font-size="8.3" text-anchor="end" fill="#3f7599" stroke="#3f7599" stroke-width="0.15">No</text>
<text x="97.40" y="157.15" font-size="8.3" text-anchor="middle" fill="#222" stroke="#222" stroke-width="0.15">18 (0)</text>
<text x="126.50" y="157.15" font-size="8.3" text-anchor="middle" fill="#222" stroke="#222" stroke-width="0.15">18 (0)</text>
<text x="155.60" y="157.15" font-size="8.3" text-anchor="middle" fill="#222" stroke="#222" stroke-width="0.15">18 (0)</text>
<text x="184.70" y="157.15" font-size="8.3" text-anchor="middle" fill="#222" stroke="#222" stroke-width="0.15">16 (0)</text>
<text x="213.80" y="157.15" font-size="8.3" text-anchor="middle" fill="#222" stroke="#222" stroke-width="0.15">4 (0)</text>
<text x="242.90" y="157.15" font-size="8.3" text-anchor="middle" fill="#222" stroke="#222" stroke-width="0.15">0 (0)</text>
<text x="97.40" y="169.85" font-size="8.3" text-anchor="middle" fill="#222" stroke="#222" stroke-width="0.15">17 (1)</text>
<text x="126.50" y="169.85" font-size="8.3" text-anchor="middle" fill="#222" stroke="#222" stroke-width="0.15">17 (1)</text>
<text x="155.60" y="169.85" font-size="8.3" text-anchor="middle" fill="#222" stroke="#222" stroke-width="0.15">16 (1)</text>
<text x="184.70" y="169.85" font-size="8.3" text-anchor="middle" fill="#222" stroke="#222" stroke-width="0.15">15 (2)</text>
<text x="213.80" y="169.85" font-size="8.3" text-anchor="middle" fill="#222" stroke="#222" stroke-width="0.15">2 (3)</text>
<text x="242.90" y="169.85" font-size="8.3" text-anchor="middle" fill="#222" stroke="#222" stroke-width="0.15">0 (3)</text>
<line x1="97.40" y1="174.60" x2="97.40" y2="177.80" stroke="#1a1a1a" stroke-width="1.0"/>
<text x="97.40" y="188.20" font-size="8.6" text-anchor="middle" fill="#222" stroke="#222" stroke-width="0.15">1</text>
<line x1="126.50" y1="174.60" x2="126.50" y2="177.80" stroke="#1a1a1a" stroke-width="1.0"/>
<text x="126.50" y="188.20" font-size="8.6" text-anchor="middle" fill="#222" stroke="#222" stroke-width="0.15">2</text>
<line x1="155.60" y1="174.60" x2="155.60" y2="177.80" stroke="#1a1a1a" stroke-width="1.0"/>
<text x="155.60" y="188.20" font-size="8.6" text-anchor="middle" fill="#222" stroke="#222" stroke-width="0.15">3</text>
<line x1="184.70" y1="174.60" x2="184.70" y2="177.80" stroke="#1a1a1a" stroke-width="1.0"/>
<text x="184.70" y="188.20" font-size="8.6" text-anchor="middle" fill="#222" stroke="#222" stroke-width="0.15">4</text>
<line x1="213.80" y1="174.60" x2="213.80" y2="177.80" stroke="#1a1a1a" stroke-width="1.0"/>
<text x="213.80" y="188.20" font-size="8.6" text-anchor="middle" fill="#222" stroke="#222" stroke-width="0.15">5</text>
<line x1="242.90" y1="174.60" x2="242.90" y2="177.80" stroke="#1a1a1a" stroke-width="1.0"/>
<text x="242.90" y="188.20" font-size="8.6" text-anchor="middle" fill="#222" stroke="#222" stroke-width="0.15">6</text>
<text x="155.60" y="201.40" font-size="9.6" text-anchor="middle" textLength="69.5" lengthAdjust="spacingAndGlyphs" fill="#222" stroke="#222" stroke-width="0.45">Overall survival (years)</text>
<text transform="translate(25.60,162.60) rotate(-90)" x="0" y="0" font-size="8.3" text-anchor="middle" textLength="30.5" lengthAdjust="spacingAndGlyphs" fill="#222" stroke="#222" stroke-width="0.45">Transplant</text>
<text transform="translate(37.30,162.60) rotate(-90)" x="0" y="0" font-size="8.3" text-anchor="middle" textLength="18.2" lengthAdjust="spacingAndGlyphs" fill="#222" stroke="#222" stroke-width="0.45">Status</text>
<text x="96.30" y="215.70" font-size="7.75" text-anchor="start" fill="#222" stroke="#222" stroke-width="0.15">Transplant Status</text>
<line x1="160.20" y1="213.40" x2="169.60" y2="213.40" stroke="#c04a6c" stroke-width="1.7"/>
<line x1="164.90" y1="212.10" x2="164.90" y2="214.70" stroke="#b3153a" stroke-width="0.7"/>
<text x="172.80" y="215.70" font-size="7.6" text-anchor="start" fill="#222" stroke="#222" stroke-width="0.15" textLength="11.4" lengthAdjust="spacingAndGlyphs">Yes</text>
<line x1="193.90" y1="213.40" x2="203.00" y2="213.40" stroke="#4a75a0" stroke-width="1.7"/>
<line x1="198.45" y1="212.10" x2="198.45" y2="214.70" stroke="#2b5f8a" stroke-width="0.7"/>
<text x="206.00" y="215.70" font-size="7.6" text-anchor="start" fill="#222" stroke="#222" stroke-width="0.15">No</text>
</g>
<rect x="0" y="0" width="520" height="1" fill="#595959"/>
<rect x="0" y="0" width="1" height="424" fill="#454545"/>
<rect x="519" y="0" width="1" height="424" fill="#333"/>
<rect x="0" y="423" width="520" height="1" fill="#333"/>
</svg>
</body></html>
